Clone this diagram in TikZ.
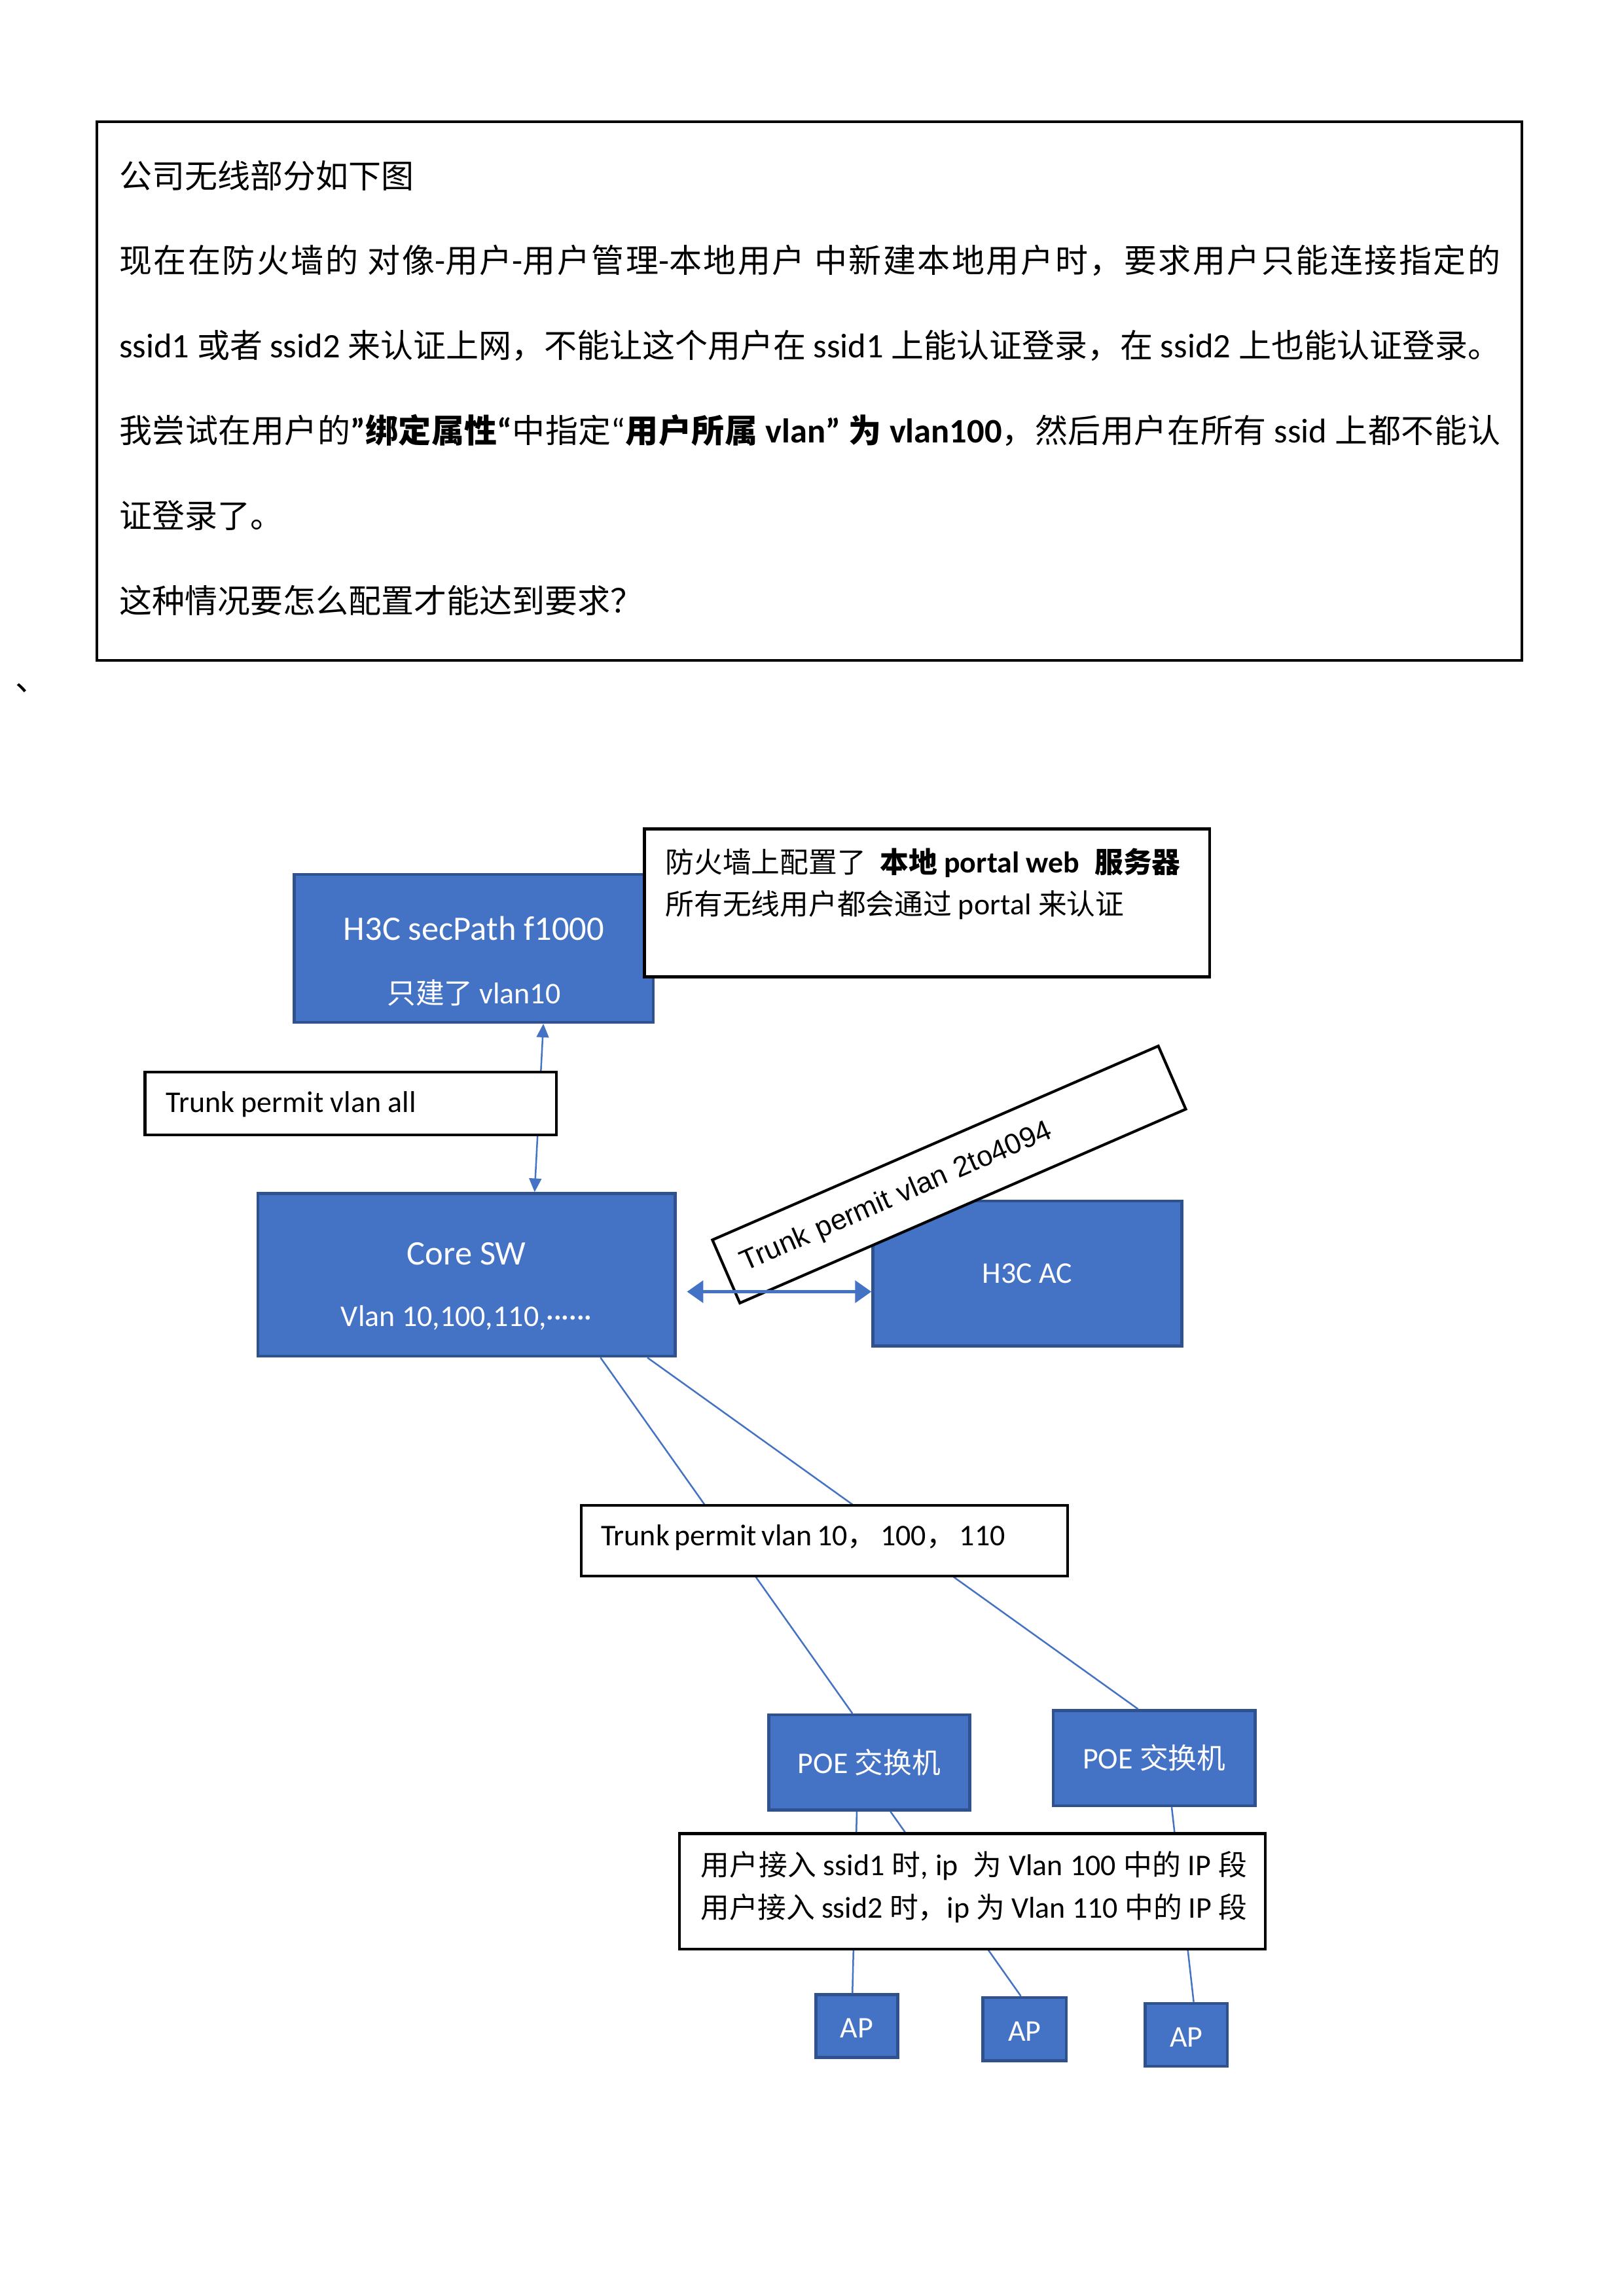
\documentclass[tikz,border=0pt]{standalone}
\usepackage{fontspec}
\setmainfont{Carlito}[Scale=1.05]
\newfontfamily\hanfont{Noto Sans CJK SC}
\newfontfamily\latinfont{Carlito}[Scale=1.05]
\newfontfamily\arialfont{Liberation Sans}
\usetikzlibrary{arrows.meta}
% Chinese characters in Noto Sans CJK, the rest in Carlito
\XeTeXinterchartokenstate=1
\newXeTeXintercharclass\hanclass
\newcount\hancode
\hancode="3000
\loop
	\XeTeXcharclass\hancode=\hanclass
	\advance\hancode by 1
\ifnum\hancode<"A000 \repeat
\hancode="FF00
\loop
	\XeTeXcharclass\hancode=\hanclass
	\advance\hancode by 1
\ifnum\hancode<"FFF0 \repeat
\XeTeXcharclass"201C=0 \XeTeXcharclass"201D=0
\XeTeXinterchartoks 0 \hanclass = {\hanfont}
\XeTeXinterchartoks 4095 \hanclass = {\hanfont}
\XeTeXinterchartoks \hanclass 0 = {\latinfont}
\XeTeXinterchartoks 4095 0 = {\latinfont}
\XeTeXinterchartoks \hanclass \hanclass = {\hskip 0pt plus 1pt minus 0.3pt\relax}
\newcommand\rotfont{\XeTeXinterchartokenstate=0 \arialfont}
\definecolor{boxblue}{HTML}{4472C4}
\definecolor{edgeblue}{HTML}{2F528F}
\newdimen\dpx \dpx=0.537pt
\newcommand\fitline[2]{\makebox[#1\dpx][s]{#2}}
\tikzset{
	bluebox/.style={draw=edgeblue, fill=boxblue, line width=1.1pt, inner sep=0pt},
	notebox/.style={draw=black, fill=white, line width=1pt, inner sep=0pt},
	wtext/.style={text=white, inner sep=0pt, font=\fontsize{10.5}{12}\selectfont},
	wbig/.style={text=white, inner sep=0pt, font=\fontsize{12}{14}\selectfont},
	btext/.style={text=black, inner sep=0pt, anchor=west, font=\fontsize{10.5}{12}\selectfont},
	qtext/.style={text=black, inner sep=0pt, anchor=west, font=\fontsize{12}{14}\selectfont},
	link/.style={draw=boxblue, line width=0.6pt},
	twoway/.style={{Triangle[length=5pt,width=4.5pt]}-{Triangle[length=5pt,width=4.5pt]}},
	bigtwoway/.style={{Triangle[length=6pt,width=8pt]}-{Triangle[length=6pt,width=8pt]}},
}
\begin{document}
\begin{tikzpicture}[x=0.537pt, y=-0.537pt]
		%%%%% START %%%%%
		\useasboundingbox (0, 0) rectangle (1108.6, 1567.8);
		
		% question box
		\node[notebox, minimum width=973\dpx, minimum height=368\dpx] (intro) at (552.5, 267) {};
		\node[qtext] (q1) at (81, 120) {公司无线部分如下图};
		\node[qtext] (q2) at (81, 178) {\fitline{943}{现在在防火墙的 对像-用户-用户管理-本地用户 中新建本地用户时，要求用户只能连接指定的}};
		\node[qtext] (q3) at (81, 236) {\fitline{943}{ssid1 或者 ssid2 来认证上网，不能让这个用户在 ssid1 上能认证登录，在 ssid2 上也能认证登录。}};
		\node[qtext] (q4) at (81, 294) {\fitline{943}{我尝试在用户的{\bfseries ”绑定属性“}中指定“{\bfseries 用户所属 vlan” 为 vlan100}，然后用户在所有 ssid 上都不能认}};
		\node[qtext] (q5) at (81, 352) {证登录了。};
		\node[qtext] (q6) at (81, 410) {这种情况要怎么配置才能达到要求？};
		\node[qtext] (tick) at (10, 470) {、};
		
		% devices
		\node[bluebox, minimum width=245\dpx, minimum height=101\dpx] (fw) at (323.5, 647.5) {};
		\node[wbig] (fwname) at (323.5, 634) {H3C secPath f1000};
		\node[wtext] (fwvlan) at (323.5, 678) {只建了 vlan10};
		
		\node[bluebox, minimum width=285\dpx, minimum height=111\dpx] (core) at (318.5, 870.5) {};
		\node[wbig] (corename) at (318.5, 856) {Core SW};
		\node[wtext] (corevlan) at (318.5, 900) {Vlan 10,100,110,······};
		
		\node[bluebox, minimum width=211\dpx, minimum height=99\dpx] (ac) at (701.5, 869.5) {};
		\node[wtext] (acname) at (701.5, 869.5) {H3C AC};
		
		\node[bluebox, minimum width=137\dpx, minimum height=65\dpx] (poeA) at (593.5, 1203.5) {};
		\node[wtext] (poeAname) at (593.5, 1203.5) {POE 交换机};
		\node[bluebox, minimum width=138\dpx, minimum height=65\dpx] (poeB) at (788, 1200.5) {};
		\node[wtext] (poeBname) at (788, 1200.5) {POE 交换机};
		
		\node[bluebox, minimum width=56\dpx, minimum height=43\dpx] (apA) at (585, 1383.5) {};
		\node[wtext] (apAname) at (585, 1385) {AP};
		\node[bluebox, minimum width=57\dpx, minimum height=43\dpx] (apB) at (699.5, 1385.5) {};
		\node[wtext] (apBname) at (699.5, 1387) {AP};
		\node[bluebox, minimum width=56\dpx, minimum height=43\dpx] (apC) at (810, 1389.5) {};
		\node[wtext] (apCname) at (810, 1391) {AP};
		
		% links
		\draw[link, twoway] ([xshift=46.5\dpx]core.north) -- ([xshift=47.5\dpx]fw.south);
		\draw[link] ([xshift=91.5\dpx]core.south) -- ([xshift=-11.5\dpx]poeA.north);
		\draw[link] ([xshift=123.5\dpx]core.south) -- ([xshift=-11\dpx]poeB.north);
		\draw[link] ([xshift=-8.5\dpx]poeA.south) -- ([xshift=-3\dpx]apA.north);
		\draw[link] ([xshift=14.5\dpx]poeA.south) -- ([xshift=-2.5\dpx]apB.north);
		\draw[link] ([xshift=12\dpx]poeB.south) -- ([xshift=5\dpx]apC.north);
		
		% notes
		\node[notebox, minimum width=386\dpx, minimum height=101\dpx] (portal) at (633, 616.5) {};
		\node[btext] (portalA) at (454, 589) {防火墙上配置了\enspace{\bfseries 本地 portal web\enspace 服务器}};
		\node[btext] (portalB) at (454, 618) {所有无线用户都会通过 portal 来认证};
		
		\node[notebox, minimum width=281\dpx, minimum height=43\dpx] (trunkall) at (239.5, 753.5) {};
		\node[btext] (trunkallname) at (113, 754) {Trunk permit vlan all};
		
		\node[notebox, minimum width=332\dpx, minimum height=48\dpx] (trunkdown) at (563, 1052) {};
		\node[btext] (trunkdownname) at (410, 1050) {\fitline{276}{Trunk permit vlan 10， 100， 110}};
		
		\node[notebox, minimum width=400\dpx, minimum height=79\dpx] (ssid) at (664, 1291.5) {};
		\node[btext] (ssidA) at (478, 1274) {\fitline{373}{用户接入 ssid1 时, ip\enspace 为 Vlan 100 中的 IP 段}};
		\node[btext] (ssidB) at (478, 1303) {\fitline{373}{用户接入 ssid2 时，ip 为 Vlan 110 中的 IP 段}};
		
		\node[notebox, rotate=23.5, minimum height=47\dpx, inner xsep=12\dpx, text width=308\dpx, align=left, font=\rotfont\fontsize{10.5}{12}\selectfont] (trunkac) at (648, 802) {Trunk permit vlan 2to4094};
		
		\draw[link, line width=1.4pt, bigtwoway] ([xshift=7\dpx, yshift=-11.5\dpx]core.east) -- ([yshift=-12.5\dpx]ac.west);
		%%%%% END %%%%%
\end{tikzpicture}
\end{document}
